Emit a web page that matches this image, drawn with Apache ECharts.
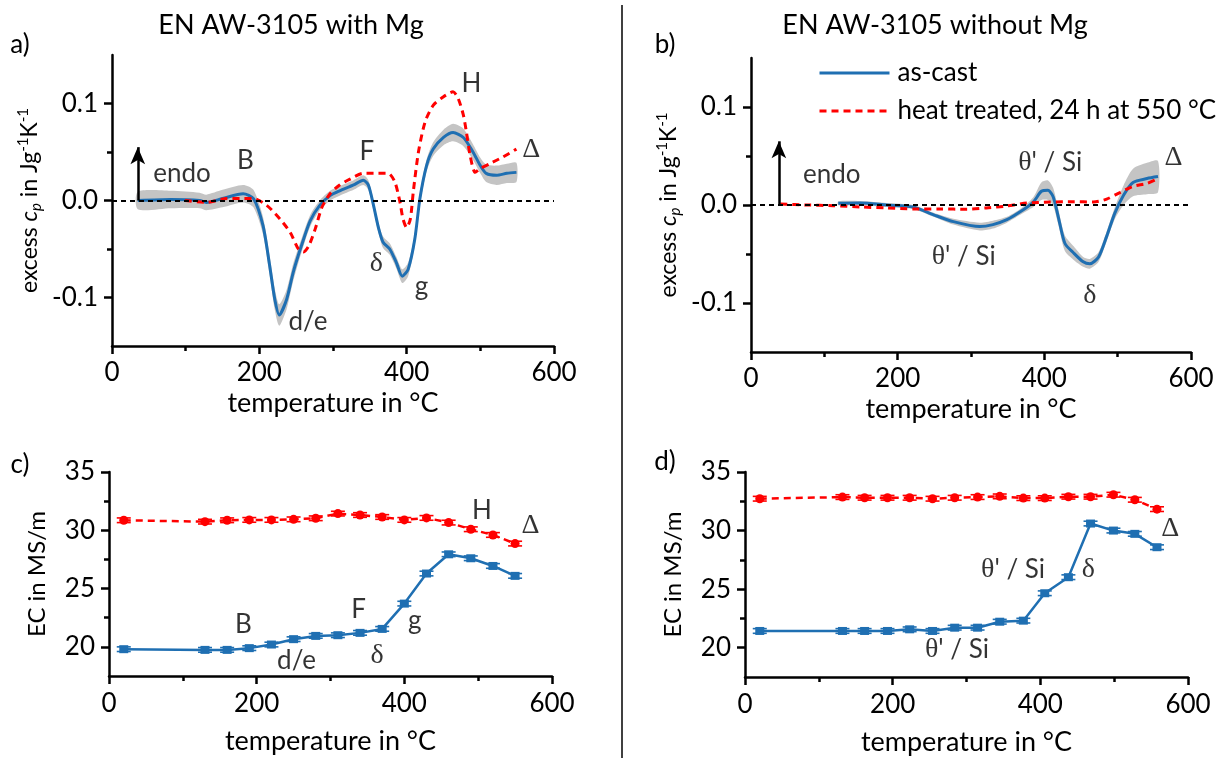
<!DOCTYPE html>
<html><head><meta charset="utf-8">
<script src="https://cdn.jsdelivr.net/npm/echarts@6/dist/echarts.min.js"></script>
<style>html,body{margin:0;padding:0;background:#fff}#c{width:1228px;height:758px}</style>
</head><body><div id="c"></div>
<script>
// ---------- DATA ----------
// Panel a: DSC, EN AW-3105 with Mg
const tempA = [35, 80, 119, 128, 150, 178, 192, 205, 214, 221, 227, 237, 246, 257, 269, 282, 296, 309, 328, 341, 348, 355, 362, 368, 377, 386, 394, 402, 411, 418, 427, 436, 450, 463, 477, 490, 500, 508, 522, 536, 549];
const castA = [0, 0.001, 0, -0.002, 0.002, 0.007, 0.002, -0.026, -0.067, -0.102, -0.118, -0.102, -0.074, -0.047, -0.021, -0.005, 0.005, 0.010, 0.016, 0.021, 0.016, -0.005, -0.029, -0.043, -0.050, -0.064, -0.078, -0.071, -0.040, 0.002, 0.036, 0.053, 0.065, 0.070, 0.065, 0.050, 0.036, 0.028, 0.026, 0.028, 0.029];
const bandA = [0.009, 0.009, 0.008, 0.008, 0.009, 0.009, 0.009, 0.009, 0.010, 0.011, 0.011, 0.010, 0.009, 0.007, 0.006, 0.005, 0.005, 0.005, 0.005, 0.005, 0.005, 0.005, 0.005, 0.006, 0.006, 0.006, 0.007, 0.007, 0.006, 0.006, 0.006, 0.007, 0.008, 0.009, 0.009, 0.008, 0.008, 0.009, 0.010, 0.010, 0.010];
const tempAh = [99, 128, 156, 174, 192, 210, 228, 242, 253, 260, 267, 276, 285, 296, 309, 323, 341, 359, 375, 384, 391, 395, 400, 405, 409, 416, 425, 436, 450, 463, 470, 477, 481, 486, 493, 500, 513, 531, 549];
const heatA = [0, -0.002, 0.002, 0.002, 0.002, -0.005, -0.019, -0.033, -0.050, -0.053, -0.047, -0.029, -0.007, 0.007, 0.016, 0.022, 0.028, 0.028, 0.028, 0.019, -0.002, -0.019, -0.028, -0.019, 0.009, 0.050, 0.081, 0.098, 0.107, 0.112, 0.105, 0.088, 0.071, 0.047, 0.029, 0.033, 0.038, 0.045, 0.053];

// Panel b: DSC, EN AW-3105 without Mg
const tempB = [119, 149, 185, 221, 249, 276, 312, 330, 349, 367, 385, 396, 405, 412, 419, 428, 440, 453, 462, 474, 485, 496, 508, 521, 540, 555];
const castB = [0.0017, 0.002, 0, -0.002, -0.010, -0.017, -0.022, -0.020, -0.015, -0.007, 0.003, 0.014, 0.015, 0.0085, -0.012, -0.039, -0.049, -0.058, -0.060, -0.053, -0.032, -0.0085, 0.010, 0.023, 0.027, 0.029];
const bandB = [0.002, 0.002, 0.002, 0.002, 0.002, 0.003, 0.004, 0.004, 0.003, 0.003, 0.005, 0.009, 0.010, 0.009, 0.008, 0.008, 0.007, 0.005, 0.005, 0.005, 0.005, 0.006, 0.010, 0.014, 0.016, 0.016];
const tempBh = [40, 76, 112, 149, 185, 221, 258, 294, 321, 349, 376, 408, 440, 467, 485, 503, 521, 540, 555];
const heatB = [0.001, 0, -0.0007, -0.002, -0.003, -0.004, -0.004, -0.0044, -0.003, -0.001, 0.002, 0.003, 0.0034, 0.003, 0.006, 0.0126, 0.019, 0.022, 0.027];

// Panels c, d: electrical conductivity
const tempC = [20, 130, 160, 190, 220, 250, 280, 310, 340, 370, 400, 430, 460, 490, 520, 550];
const castC = [19.8, 19.74, 19.74, 19.89, 20.2, 20.66, 20.94, 21.0, 21.2, 21.54, 23.71, 26.29, 27.94, 27.6, 26.94, 26.09];
const heatC = [30.86, 30.74, 30.86, 30.89, 30.89, 30.94, 31.03, 31.43, 31.31, 31.14, 30.89, 31.06, 30.66, 30.09, 29.6, 28.86];
const tempD = [20, 132, 162, 193, 223, 254, 284, 315, 345, 377, 406, 438, 468, 499, 528, 558];
const castD = [21.43, 21.43, 21.43, 21.43, 21.57, 21.43, 21.71, 21.71, 22.22, 22.31, 24.65, 26.02, 30.6, 30.0, 29.72, 28.58];
const heatD = [32.72, 32.86, 32.8, 32.8, 32.8, 32.72, 32.8, 32.86, 32.92, 32.77, 32.77, 32.89, 32.89, 33.06, 32.63, 31.83];
const errEC = [0.2, 0.2, 0.2, 0.2, 0.2, 0.2, 0.2, 0.2, 0.2, 0.2, 0.2, 0.2, 0.2, 0.2, 0.2, 0.2];

// tick labels
const dscTicks = [-0.1, 0, 0.1];
const dscMinor = [-0.05, 0.05];
const ecTicks = [20, 25, 30, 35];
const ecMinor = [22.5, 27.5, 32.5];

// annotations [temperature, value, text]
const annA = [[95, 0.028, 'endo'], [181, 0.041, 'B'], [266, -0.125, 'd/e'], [346, 0.05, 'F'], [359, -0.065, 'δ'], [420, -0.089, 'g'], [488, 0.12, 'H'], [569, 0.052, 'Δ']];
const annB = [[110, 0.031, 'endo'], [408, 0.043, "θ' / Si"], [290, -0.053, "θ' / Si"], [462, -0.092, 'δ'], [576, 0.048, 'Δ']];
const annC = [[182, 21.94, 'B'], [254, 18.8, 'd/e'], [338, 23.23, 'F'], [363, 19.23, 'δ'], [414, 22.23, 'g'], [505, 31.66, 'H'], [571, 30.37, 'Δ']];
const annD = [[363, 26.64, "θ' / Si"], [465, 26.64, 'δ'], [287, 19.8, "θ' / Si"], [576, 30.2, 'Δ']];
const arrowA = [35, 0, 0.055];
const arrowB = [38, 0, 0.065];

const NAME_CAST = 'as-cast';
const NAME_HEAT = 'heat treated, 24 h at 550 °C';

// ---------- STYLE ----------
const BLUE = '#1f6fb2', RED = '#ff0000', GREY = '#c4c4c4';
const FONT = 'Lato';
const pairs = (xs, ys) => xs.map((x, i) => [x, ys[i]]);

const grids = [
  {left: 112, top: 55, width: 442, height: 291},
  {left: 751, top: 58, width: 440, height: 294},
  {left: 109, top: 472, width: 443, height: 204},
  {left: 745, top: 472, width: 443, height: 205}
];

const axisLine = {show: true, onZero: false, lineStyle: {color: '#000', width: 2.5}};
const xAxes = grids.map((g, i) => ({
  type: 'value', gridIndex: i, min: 0, max: 600, interval: 200,
  axisLine, axisTick: {show: true, length: 8, lineStyle: {color: '#000', width: 2.5}},
  minorTick: {show: true, splitNumber: 2, length: 5, lineStyle: {color: '#000', width: 2.5}},
  splitLine: {show: false}, minorSplitLine: {show: false},
  axisLabel: {fontSize: 26, fontFamily: FONT, color: '#000', margin: i < 2 ? 14 : 15},
  name: 'temperature in °C', nameLocation: 'middle', nameGap: i < 2 ? 44 : 52,
  nameTextStyle: {fontSize: 27, fontFamily: FONT, color: '#000'}
}));

const dscName = '{n|excess }{i|c}{sub|p}{n| in Jg}{sup|-1}{n|K}{sup|-1}';
const dscRich = {
  n: {fontSize: 23, fontFamily: FONT, color: '#000', lineHeight: 28},
  i: {fontSize: 23, fontFamily: FONT, fontStyle: 'italic', color: '#000', lineHeight: 28},
  sub: {fontSize: 15, fontFamily: FONT, fontStyle: 'italic', color: '#000', verticalAlign: 'bottom', lineHeight: 28},
  sup: {fontSize: 15, fontFamily: FONT, color: '#000', verticalAlign: 'top', lineHeight: 20}
};

function mainY(i, min, max, ticks, fmt, name, gap, rich) {
  return {
    type: 'value', gridIndex: i, min, max,
    axisLine, splitLine: {show: false},
    axisTick: {show: true, length: 8, customValues: ticks, lineStyle: {color: '#000', width: 2.5}},
    axisLabel: {customValues: ticks, formatter: fmt, fontSize: 26, fontFamily: FONT, color: '#000', margin: 14},
    name, nameLocation: 'middle', nameRotate: 90, nameGap: gap,
    nameTextStyle: rich ? {rich} : {fontSize: 24, fontFamily: FONT, color: '#000'}
  };
}
function minorY(i, min, max, ticks) {
  return {
    type: 'value', gridIndex: i, min, max, position: 'left', offset: 0,
    axisLine: {show: false}, splitLine: {show: false}, axisLabel: {show: false},
    axisTick: {show: true, length: 5, customValues: ticks, lineStyle: {color: '#000', width: 2.5}}
  };
}
const fmtDsc = v => v.toFixed(1);
const fmtEc = v => String(Math.round(v));
const yAxes = [
  mainY(0, -0.15, 0.15, dscTicks, fmtDsc, dscName, 68, dscRich),
  mainY(1, -0.15, 0.15, dscTicks, fmtDsc, dscName, 68, dscRich),
  mainY(2, 17.5, 35, ecTicks, fmtEc, 'EC in MS/m', 60),
  mainY(3, 17.5, 35, ecTicks, fmtEc, 'EC in MS/m', 60),
  minorY(0, -0.15, 0.15, dscMinor),
  minorY(1, -0.15, 0.15, dscMinor),
  minorY(2, 17.5, 35, ecMinor),
  minorY(3, 17.5, 35, ecMinor)
];

function bandSeries(idx, xs, mid, half) {
  return {
    type: 'custom', xAxisIndex: idx, yAxisIndex: idx, silent: true, z: 1,
    data: [[xs[0], mid[0]]],
    renderItem: (params, api) => {
      const up = xs.map((x, k) => api.coord([x, mid[k] + half[k]]));
      const lo = xs.map((x, k) => api.coord([x, mid[k] - half[k]])).reverse();
      return {type: 'polygon', shape: {points: up.concat(lo), smooth: 0.25}, style: {fill: GREY}};
    }
  };
}
function dscLine(idx, name, xs, ys, color, dashed) {
  return {
    type: 'line', name, xAxisIndex: idx, yAxisIndex: idx, data: pairs(xs, ys),
    showSymbol: false, symbol: 'none', smooth: 0.25, z: 3,
    lineStyle: {color, width: 3, type: dashed ? [7, 5] : 'solid'},
    itemStyle: {color}
  };
}
function ecLine(idx, name, xs, ys, color, dashed, symbol) {
  return {
    type: 'line', name, xAxisIndex: idx, yAxisIndex: idx, data: pairs(xs, ys),
    showSymbol: true, symbol, symbolSize: symbol === 'rect' ? [9, 8] : 9, z: 4,
    lineStyle: {color, width: 2.5, type: dashed ? [7, 5] : 'solid'},
    itemStyle: {color}
  };
}
function errSeries(idx, xs, ys, color) {
  return {
    type: 'custom', xAxisIndex: idx, yAxisIndex: idx, silent: true, z: 3,
    data: xs.map((x, k) => [x, ys[k], errEC[k]]),
    renderItem: (params, api) => {
      const x = api.value(0), y = api.value(1), e = api.value(2);
      const t = api.coord([x, y + e]), b = api.coord([x, y - e]);
      const w = 7;
      const st = {stroke: color, lineWidth: 1.6};
      return {type: 'group', children: [
        {type: 'line', shape: {x1: t[0], y1: t[1], x2: b[0], y2: b[1]}, style: st},
        {type: 'line', shape: {x1: t[0] - w, y1: t[1], x2: t[0] + w, y2: t[1]}, style: st},
        {type: 'line', shape: {x1: b[0] - w, y1: b[1], x2: b[0] + w, y2: b[1]}, style: st}
      ]};
    }
  };
}
const richAnn = {
  t: {fontFamily: FONT, fontSize: 26, color: '#000', textBorderWidth: 0},
  g: {fontFamily: 'Liberation Serif', fontSize: 28, color: '#000', textBorderWidth: 0}
};
function annSeries(idx, ann, arrow) {
  const s = {
    type: 'scatter', xAxisIndex: idx, yAxisIndex: idx, silent: true, z: 6,
    symbolSize: 1, itemStyle: {color: 'rgba(0,0,0,0)'},
    data: ann,
    label: {
      show: true, position: 'inside', rich: richAnn, color: '#000', textBorderWidth: 0, textBorderColor: 'transparent',
      formatter: p => String(p.value[2]).replace(/([δθΔ])|([^δθΔ]+)/g, (m, g, t) => g ? '{g|' + g + '}' : '{t|' + t + '}')
    }
  };
  if (arrow) {
    s.markLine = {
      silent: true, animation: false, symbol: 'none', label: {show: false},
      lineStyle: {color: '#000', width: 2.5, type: 'solid'},
      data: [
        {yAxis: 0, lineStyle: {color: '#000', width: 1.8, type: [5, 4]}},
        [{coord: [arrow[0], arrow[1]], symbol: 'none'}, {coord: [arrow[0], arrow[2]], symbol: 'arrow', symbolSize: [11, 17]}]
      ]
    };
  }
  return s;
}

const series = [
  dscLine(1, NAME_CAST, tempB, castB, BLUE, false),
  dscLine(1, NAME_HEAT, tempBh, heatB, RED, true),
  bandSeries(0, tempA, castA, bandA),
  dscLine(0, NAME_CAST, tempA, castA, BLUE, false),
  dscLine(0, NAME_HEAT, tempAh, heatA, RED, true),
  bandSeries(1, tempB, castB, bandB),
  errSeries(2, tempC, castC, BLUE), errSeries(2, tempC, heatC, RED),
  ecLine(2, NAME_CAST, tempC, castC, BLUE, false, 'rect'),
  ecLine(2, NAME_HEAT, tempC, heatC, RED, true, 'circle'),
  errSeries(3, tempD, castD, BLUE), errSeries(3, tempD, heatD, RED),
  ecLine(3, NAME_CAST, tempD, castD, BLUE, false, 'rect'),
  ecLine(3, NAME_HEAT, tempD, heatD, RED, true, 'circle'),
  annSeries(0, annA, arrowA),
  annSeries(1, annB, arrowB),
  annSeries(2, annC),
  annSeries(3, annD)
];

function txt(text, x, y, size) {
  return {type: 'text', x, y, silent: true, style: {text, font: size + 'px ' + FONT, fill: '#000', textAlign: 'center', textVerticalAlign: 'middle'}};
}

const chart = echarts.init(document.getElementById('c'));
chart.setOption({
  animation: false,
  backgroundColor: '#fff',
  grid: grids.map(g => Object.assign({containLabel: false}, g)),
  xAxis: xAxes,
  yAxis: yAxes,
  legend: {
    data: [NAME_CAST, NAME_HEAT],
    orient: 'vertical', left: 813, top: 55,
    itemWidth: 70, itemHeight: 14, itemGap: 12, selectedMode: false,
    itemStyle: {opacity: 0},
    lineStyle: {width: 3, opacity: 1},
    textStyle: {fontSize: 26, fontFamily: FONT, color: '#000', padding: [0, 0, 0, 3]}
  },
  series,
  graphic: [
    txt('a)', 20, 45, 26), txt('b)', 665, 45, 26), txt('c)', 20, 465, 26), txt('d)', 665, 462, 26),
    txt('EN AW-3105 with Mg', 291, 25, 27), txt('EN AW-3105 without Mg', 935, 25, 27),
    {type: 'line', silent: true, shape: {x1: 622, y1: 5, x2: 622, y2: 758}, style: {stroke: '#000', lineWidth: 1.5}}
  ]
});
</script></body></html>
